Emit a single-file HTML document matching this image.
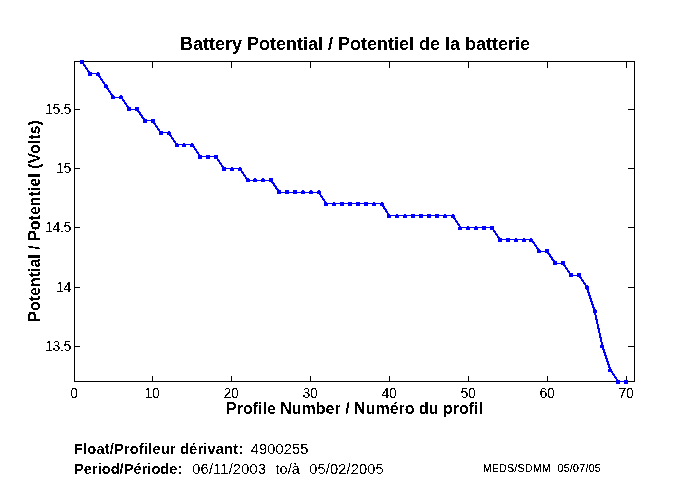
<!DOCTYPE html>
<html><head><meta charset="utf-8"><title>Battery Potential</title>
<style>
html,body{margin:0;padding:0;background:#fff;}
body{width:680px;height:500px;overflow:hidden;font-family:"Liberation Sans",sans-serif;}
svg{display:block;font-family:"Liberation Sans",sans-serif;}
.tk{font-size:14px;fill:#000;letter-spacing:-0.3px;}
.b{font-weight:bold;}
</style></head><body>
<svg width="680" height="500" viewBox="0 0 680 500">
<rect width="680" height="500" fill="#fff"/>
<g fill="#000" shape-rendering="crispEdges">
<rect x="74" y="61" width="561" height="1"/>
<rect x="74" y="381" width="561" height="1"/>
<rect x="74" y="61" width="1" height="321"/>
<rect x="634" y="61" width="1" height="321"/>
<rect x="74" y="376" width="1" height="5"/><rect x="74" y="62" width="1" height="6"/><rect x="152" y="376" width="1" height="5"/><rect x="152" y="62" width="1" height="6"/><rect x="231" y="376" width="1" height="5"/><rect x="231" y="62" width="1" height="6"/><rect x="310" y="376" width="1" height="5"/><rect x="310" y="62" width="1" height="6"/><rect x="389" y="376" width="1" height="5"/><rect x="389" y="62" width="1" height="6"/><rect x="468" y="376" width="1" height="5"/><rect x="468" y="62" width="1" height="6"/><rect x="547" y="376" width="1" height="5"/><rect x="547" y="62" width="1" height="6"/><rect x="626" y="376" width="1" height="5"/><rect x="626" y="62" width="1" height="6"/>
<rect x="75" y="109" width="5" height="1"/><rect x="628" y="109" width="6" height="1"/><rect x="75" y="168" width="5" height="1"/><rect x="628" y="168" width="6" height="1"/><rect x="75" y="227" width="5" height="1"/><rect x="628" y="227" width="6" height="1"/><rect x="75" y="287" width="5" height="1"/><rect x="628" y="287" width="6" height="1"/><rect x="75" y="346" width="5" height="1"/><rect x="628" y="346" width="6" height="1"/>
</g>
<g shape-rendering="crispEdges">
<g fill="#0000ff"><line x1="81.89" y1="61.70" x2="89.77" y2="73.55" stroke="#0000ff" stroke-width="2"/><rect x="89.77" y="73" width="7.89" height="1"/><line x1="97.66" y1="73.55" x2="105.55" y2="85.40" stroke="#0000ff" stroke-width="2"/><line x1="105.55" y1="85.40" x2="113.44" y2="97.26" stroke="#0000ff" stroke-width="2"/><rect x="113.44" y="97" width="7.89" height="1"/><line x1="121.32" y1="97.26" x2="129.21" y2="109.11" stroke="#0000ff" stroke-width="2"/><rect x="129.21" y="109" width="7.89" height="1"/><line x1="137.10" y1="109.11" x2="144.99" y2="120.96" stroke="#0000ff" stroke-width="2"/><rect x="144.99" y="120" width="7.89" height="1"/><line x1="152.87" y1="120.96" x2="160.76" y2="132.81" stroke="#0000ff" stroke-width="2"/><rect x="160.76" y="132" width="7.89" height="1"/><line x1="168.65" y1="132.81" x2="176.54" y2="144.66" stroke="#0000ff" stroke-width="2"/><rect x="176.54" y="144" width="7.89" height="1"/><rect x="184.42" y="144" width="7.89" height="1"/><line x1="192.31" y1="144.66" x2="200.20" y2="156.51" stroke="#0000ff" stroke-width="2"/><rect x="200.20" y="156" width="7.89" height="1"/><rect x="208.08" y="156" width="7.89" height="1"/><line x1="215.97" y1="156.51" x2="223.86" y2="168.37" stroke="#0000ff" stroke-width="2"/><rect x="223.86" y="168" width="7.89" height="1"/><rect x="231.75" y="168" width="7.89" height="1"/><line x1="239.63" y1="168.37" x2="247.52" y2="180.22" stroke="#0000ff" stroke-width="2"/><rect x="247.52" y="180" width="7.89" height="1"/><rect x="255.41" y="180" width="7.89" height="1"/><rect x="263.30" y="180" width="7.89" height="1"/><line x1="271.18" y1="180.22" x2="279.07" y2="192.07" stroke="#0000ff" stroke-width="2"/><rect x="279.07" y="192" width="7.89" height="1"/><rect x="286.96" y="192" width="7.89" height="1"/><rect x="294.85" y="192" width="7.89" height="1"/><rect x="302.73" y="192" width="7.89" height="1"/><rect x="310.62" y="192" width="7.89" height="1"/><line x1="318.51" y1="192.07" x2="326.39" y2="203.92" stroke="#0000ff" stroke-width="2"/><rect x="326.39" y="203" width="7.89" height="1"/><rect x="334.28" y="203" width="7.89" height="1"/><rect x="342.17" y="203" width="7.89" height="1"/><rect x="350.06" y="203" width="7.89" height="1"/><rect x="357.94" y="203" width="7.89" height="1"/><rect x="365.83" y="203" width="7.89" height="1"/><rect x="373.72" y="203" width="7.89" height="1"/><line x1="381.61" y1="203.92" x2="389.49" y2="215.77" stroke="#0000ff" stroke-width="2"/><rect x="389.49" y="215" width="7.89" height="1"/><rect x="397.38" y="215" width="7.89" height="1"/><rect x="405.27" y="215" width="7.89" height="1"/><rect x="413.15" y="215" width="7.89" height="1"/><rect x="421.04" y="215" width="7.89" height="1"/><rect x="428.93" y="215" width="7.89" height="1"/><rect x="436.82" y="215" width="7.89" height="1"/><rect x="444.70" y="215" width="7.89" height="1"/><line x1="452.59" y1="215.77" x2="460.48" y2="227.63" stroke="#0000ff" stroke-width="2"/><rect x="460.48" y="227" width="7.89" height="1"/><rect x="468.37" y="227" width="7.89" height="1"/><rect x="476.25" y="227" width="7.89" height="1"/><rect x="484.14" y="227" width="7.89" height="1"/><line x1="492.03" y1="227.63" x2="499.92" y2="239.48" stroke="#0000ff" stroke-width="2"/><rect x="499.92" y="239" width="7.89" height="1"/><rect x="507.80" y="239" width="7.89" height="1"/><rect x="515.69" y="239" width="7.89" height="1"/><rect x="523.58" y="239" width="7.89" height="1"/><line x1="531.46" y1="239.48" x2="539.35" y2="251.33" stroke="#0000ff" stroke-width="2"/><rect x="539.35" y="251" width="7.89" height="1"/><line x1="547.24" y1="251.33" x2="555.13" y2="263.18" stroke="#0000ff" stroke-width="2"/><rect x="555.13" y="263" width="7.89" height="1"/><line x1="563.01" y1="263.18" x2="570.90" y2="275.03" stroke="#0000ff" stroke-width="2"/><rect x="570.90" y="275" width="7.89" height="1"/><line x1="578.79" y1="275.03" x2="586.68" y2="286.89" stroke="#0000ff" stroke-width="2"/><line x1="586.68" y1="286.89" x2="594.56" y2="310.59" stroke="#0000ff" stroke-width="2"/><line x1="594.56" y1="310.59" x2="602.45" y2="346.14" stroke="#0000ff" stroke-width="2"/><line x1="602.45" y1="346.14" x2="610.34" y2="369.85" stroke="#0000ff" stroke-width="2"/><line x1="610.34" y1="369.85" x2="618.23" y2="381.70" stroke="#0000ff" stroke-width="2"/><rect x="618.23" y="381" width="7.89" height="1"/></g>
<g fill="#0000ff"><rect x="80" y="60" width="4" height="4"/><rect x="88" y="72" width="4" height="4"/><path d="M97 72h2v1h1v3h-4v-3h1z"/><path d="M105 84h2v1h1v3h-4v-3h1z"/><path d="M112 95h2v1h1v3h-4v-3h1z"/><path d="M120 95h2v1h1v3h-4v-3h1z"/><rect x="127" y="107" width="4" height="4"/><rect x="135" y="107" width="4" height="4"/><rect x="143" y="119" width="4" height="4"/><rect x="151" y="119" width="4" height="4"/><rect x="159" y="131" width="4" height="4"/><path d="M168 131h2v1h1v3h-4v-3h1z"/><path d="M176 143h2v1h1v3h-4v-3h1z"/><path d="M183 143h2v1h1v3h-4v-3h1z"/><path d="M191 143h2v1h1v3h-4v-3h1z"/><rect x="198" y="155" width="4" height="4"/><rect x="206" y="155" width="4" height="4"/><rect x="214" y="155" width="4" height="4"/><rect x="222" y="167" width="4" height="4"/><path d="M231 167h2v1h1v3h-4v-3h1z"/><path d="M239 167h2v1h1v3h-4v-3h1z"/><path d="M247 178h2v1h1v3h-4v-3h1z"/><path d="M254 178h2v1h1v3h-4v-3h1z"/><path d="M262 178h2v1h1v3h-4v-3h1z"/><rect x="269" y="178" width="4" height="4"/><rect x="277" y="190" width="4" height="4"/><rect x="285" y="190" width="4" height="4"/><rect x="293" y="190" width="4" height="4"/><path d="M302 190h2v1h1v3h-4v-3h1z"/><path d="M310 190h2v1h1v3h-4v-3h1z"/><path d="M318 190h2v1h1v3h-4v-3h1z"/><path d="M325 202h2v1h1v3h-4v-3h1z"/><path d="M333 202h2v1h1v3h-4v-3h1z"/><rect x="340" y="202" width="4" height="4"/><rect x="348" y="202" width="4" height="4"/><rect x="356" y="202" width="4" height="4"/><rect x="364" y="202" width="4" height="4"/><path d="M373 202h2v1h1v3h-4v-3h1z"/><path d="M381 202h2v1h1v3h-4v-3h1z"/><path d="M388 214h2v1h1v3h-4v-3h1z"/><path d="M396 214h2v1h1v3h-4v-3h1z"/><path d="M404 214h2v1h1v3h-4v-3h1z"/><rect x="411" y="214" width="4" height="4"/><rect x="419" y="214" width="4" height="4"/><rect x="427" y="214" width="4" height="4"/><rect x="435" y="214" width="4" height="4"/><path d="M444 214h2v1h1v3h-4v-3h1z"/><path d="M452 214h2v1h1v3h-4v-3h1z"/><path d="M459 226h2v1h1v3h-4v-3h1z"/><path d="M467 226h2v1h1v3h-4v-3h1z"/><path d="M475 226h2v1h1v3h-4v-3h1z"/><rect x="482" y="226" width="4" height="4"/><rect x="490" y="226" width="4" height="4"/><rect x="498" y="238" width="4" height="4"/><rect x="506" y="238" width="4" height="4"/><path d="M515 238h2v1h1v3h-4v-3h1z"/><path d="M523 238h2v1h1v3h-4v-3h1z"/><path d="M530 238h2v1h1v3h-4v-3h1z"/><path d="M538 249h2v1h1v3h-4v-3h1z"/><rect x="545" y="249" width="4" height="4"/><rect x="553" y="261" width="4" height="4"/><rect x="561" y="261" width="4" height="4"/><rect x="569" y="273" width="4" height="4"/><rect x="577" y="273" width="4" height="4"/><path d="M586 285h2v1h1v3h-4v-3h1z"/><path d="M594 309h2v1h1v3h-4v-3h1z"/><path d="M601 344h2v1h1v3h-4v-3h1z"/><path d="M609 368h2v1h1v3h-4v-3h1z"/><rect x="616" y="380" width="4" height="4"/><rect x="624" y="380" width="4" height="4"/></g>
</g>
<defs><filter id="bin" x="0" y="0" width="680" height="500" filterUnits="userSpaceOnUse" color-interpolation-filters="sRGB"><feComponentTransfer><feFuncA type="discrete" tableValues="0 1"/></feComponentTransfer></filter><filter id="bin2" x="470" y="455" width="150" height="30" filterUnits="userSpaceOnUse" color-interpolation-filters="sRGB"><feComponentTransfer><feFuncA type="discrete" tableValues="0 0 1 1 1"/></feComponentTransfer></filter></defs>
<g filter="url(#bin)" fill="#000">
<g class="tk"><text x="74.1" y="398" text-anchor="middle">0</text><text x="152.1" y="398" text-anchor="middle">10</text><text x="231.1" y="398" text-anchor="middle">20</text><text x="310.1" y="398" text-anchor="middle">30</text><text x="389.1" y="398" text-anchor="middle">40</text><text x="468.1" y="398" text-anchor="middle">50</text><text x="547.1" y="398" text-anchor="middle">60</text><text x="626.1" y="398" text-anchor="middle">70</text><text x="71" y="114" text-anchor="end">15.5</text><text x="71" y="173" text-anchor="end">15</text><text x="71" y="232" text-anchor="end">14.5</text><text x="71" y="292" text-anchor="end">14</text><text x="71" y="351" text-anchor="end">13.5</text></g>
<text class="b" x="355" y="50" text-anchor="middle" font-size="18">Battery Potential / Potentiel de la batterie</text>
<text class="b" x="354.5" y="414" text-anchor="middle" font-size="16">Profile Number / Numéro du profil</text>
<text class="b" transform="translate(40,221) rotate(-90)" text-anchor="middle" font-size="16">Potential / Potentiel (Volts)</text>
<g font-size="14.67">
<text class="b" x="74" y="454" letter-spacing="0.16">Float/Profileur dérivant:</text>
<text x="250.8" y="454" letter-spacing="0.1">4900255</text>
<text class="b" x="74" y="474">Period/Période:</text>
<text x="192.3" y="474" letter-spacing="0.15">06/11/2003</text>
<text x="275.5" y="474">to/à</text>
<text x="309.3" y="474" letter-spacing="0.1">05/02/2005</text>
</g>
</g>
<g font-size="10.67" filter="url(#bin2)" fill="#000">
<text x="482.7" y="472" letter-spacing="0.2">MEDS/SDMM</text>
<text x="557.5" y="472" letter-spacing="0.25">05/07/05</text>
</g>
</svg>
</body></html>
